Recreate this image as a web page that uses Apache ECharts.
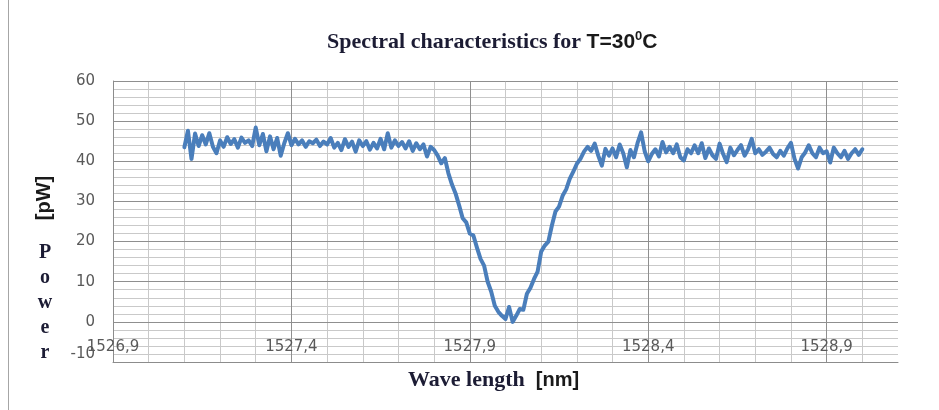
<!DOCTYPE html>
<html>
<head>
<meta charset="utf-8">
<script src="https://cdn.jsdelivr.net/npm/echarts@6/dist/echarts.min.js"></script>
<style>
html,body{margin:0;padding:0;background:#fff;}
#chart{width:939px;height:410px;}
</style>
</head>
<body>
<div id="chart"></div>
<script>
// Wavelength samples [nm]
const WAVELENGTH = [
1527.10,1527.11,1527.12,1527.13,1527.14,1527.15,1527.16,1527.17,1527.18,1527.19,
1527.20,1527.21,1527.22,1527.23,1527.24,1527.25,1527.26,1527.27,1527.28,1527.29,
1527.30,1527.31,1527.32,1527.33,1527.34,1527.35,1527.36,1527.37,1527.38,1527.39,
1527.40,1527.41,1527.42,1527.43,1527.44,1527.45,1527.46,1527.47,1527.48,1527.49,
1527.50,1527.51,1527.52,1527.53,1527.54,1527.55,1527.56,1527.57,1527.58,1527.59,
1527.60,1527.61,1527.62,1527.63,1527.64,1527.65,1527.66,1527.67,1527.68,1527.69,
1527.70,1527.71,1527.72,1527.73,1527.74,1527.75,1527.76,1527.77,1527.78,1527.79,
1527.80,1527.81,1527.82,1527.83,1527.84,1527.85,1527.86,1527.87,1527.88,1527.89,
1527.90,1527.91,1527.92,1527.93,1527.94,1527.95,1527.96,1527.97,1527.98,1527.99,
1528.00,1528.01,1528.02,1528.03,1528.04,1528.05,1528.06,1528.07,1528.08,1528.09,
1528.10,1528.11,1528.12,1528.13,1528.14,1528.15,1528.16,1528.17,1528.18,1528.19,
1528.20,1528.21,1528.22,1528.23,1528.24,1528.25,1528.26,1528.27,1528.28,1528.29,
1528.30,1528.31,1528.32,1528.33,1528.34,1528.35,1528.36,1528.37,1528.38,1528.39,
1528.40,1528.41,1528.42,1528.43,1528.44,1528.45,1528.46,1528.47,1528.48,1528.49,
1528.50,1528.51,1528.52,1528.53,1528.54,1528.55,1528.56,1528.57,1528.58,1528.59,
1528.60,1528.61,1528.62,1528.63,1528.64,1528.65,1528.66,1528.67,1528.68,1528.69,
1528.70,1528.71,1528.72,1528.73,1528.74,1528.75,1528.76,1528.77,1528.78,1528.79,
1528.80,1528.81,1528.82,1528.83,1528.84,1528.85,1528.86,1528.87,1528.88,1528.89,
1528.90,1528.91,1528.92,1528.93,1528.94,1528.95,1528.96,1528.97,1528.98,1528.99,
1529.00
];
// Power [pW]
const POWER = [
43.5,47.6,40.6,46.9,43.8,46.5,44.2,47.0,43.6,42.0,
45.2,43.6,46.0,44.3,45.5,43.4,45.9,44.6,45.2,43.8,
48.4,44.0,46.8,42.5,46.2,43.0,45.8,41.4,44.5,47.0,
44.0,45.6,44.2,45.2,43.6,45.0,44.5,45.4,43.8,44.9,
44.2,45.8,43.4,44.6,42.8,45.5,43.6,44.9,42.4,45.2,
43.8,45.0,42.9,44.6,43.2,45.6,43.0,47.0,43.4,45.2,
43.8,44.8,43.2,45.0,42.6,44.5,43.0,44.2,41.2,43.6,
42.8,41.4,39.5,40.8,37.0,34.2,32.0,29.0,25.8,24.8,
22.0,21.5,18.5,15.7,14.0,10.0,7.5,4.0,2.5,1.5,
0.7,3.7,0.0,1.5,3.2,3.0,7.0,8.5,10.7,12.5,
17.5,19.0,20.0,24.0,27.5,28.7,31.4,33.0,35.6,37.4,
39.4,40.6,42.4,43.6,42.6,44.4,41.4,38.9,43.1,41.4,
43.2,41.0,44.2,42.0,38.5,42.8,41.0,44.5,47.2,42.5,
40.0,41.8,43.0,41.2,44.8,42.2,43.6,42.0,44.2,41.0,
40.2,43.0,42.0,44.0,42.0,44.5,40.8,43.2,41.5,40.6,
44.4,41.8,39.8,43.4,41.5,42.8,44.0,41.4,43.0,45.6,
42.0,43.0,41.6,42.4,43.4,41.8,41.0,42.6,41.4,43.2,
44.6,40.6,38.2,41.0,42.2,44.0,42.0,41.0,43.4,42.0,
42.5,39.7,43.4,42.0,41.0,42.6,40.6,42.0,43.0,41.6,
43.0
];
// Axis ranges / ticks
const X_MIN = 1526.9, X_MAX = 1529.1;
const X_MAJOR_STEP = 0.5, X_MINOR_STEP = 0.1;
const Y_MIN = -10, Y_MAX = 60, Y_STEP = 10;

const LABEL_FONT = 'DejaVu Sans';
const SERIF = 'Liberation Serif';
const SANS = 'Liberation Sans';
const DARK = '#1c1c34';

const span = +(X_MAX - X_MIN).toFixed(6);
const seriesData = WAVELENGTH.map((w, i) => [w - X_MIN, POWER[i]]);

const chart = echarts.init(document.getElementById('chart'), null, {renderer: 'canvas'});
chart.setOption({
  animation: false,
  backgroundColor: '#ffffff',
  title: [
    {
      text: '{a|Spectral characteristics for }{b|T=30}{s|0}{b|C}',
      left: 327, top: 29.5, padding: 0,
      textStyle: {
        rich: {
          a: {fontFamily: SERIF, fontWeight: 'bold', fontSize: 22, color: DARK, lineHeight: 26},
          b: {fontFamily: SANS, fontWeight: 'bold', fontSize: 21, color: '#1a1a1a', lineHeight: 26},
          s: {fontFamily: SANS, fontWeight: 'bold', fontSize: 13, color: '#1a1a1a', verticalAlign: 'top', lineHeight: 14}
        }
      }
    },
    {
      text: '{a|Wave length }{b| [nm]}',
      left: 408, top: 367, padding: 0,
      textStyle: {
        rich: {
          a: {fontFamily: SERIF, fontWeight: 'bold', fontSize: 22, color: DARK, lineHeight: 26},
          b: {fontFamily: SANS, fontWeight: 'bold', fontSize: 20, color: '#1a1a1a', lineHeight: 26}
        }
      }
    }
  ],
  graphic: [
    {type: 'line', shape: {x1: 8.5, y1: 0, x2: 8.5, y2: 410}, style: {stroke: '#a6a6a6', lineWidth: 1}, silent: true},
    {type: 'text', x: 44, y: 198, rotation: Math.PI / 2,
     style: {text: '[pW]', fontFamily: SANS, fontWeight: 'bold', fontSize: 20, fill: '#1a1a1a', textAlign: 'center', textVerticalAlign: 'middle'}},
    {type: 'text', x: 45, y: 240.5,
     style: {text: 'P\no\nw\ne\nr', fontFamily: SERIF, fontWeight: 'bold', fontSize: 20, lineHeight: 25, fill: DARK, textAlign: 'center', textVerticalAlign: 'top'}}
  ],
  grid: {left: 113, right: 41, top: 81, bottom: 48, containLabel: false},
  xAxis: [
    {
      type: 'value', min: 0, max: span, interval: X_MINOR_STEP, z: 0,
      axisLine: {show: false, onZero: false}, axisTick: {show: false}, axisLabel: {show: false},
      splitLine: {show: true, showMaxLine: false, lineStyle: {color: '#c9c9c9', width: 1}}
    },
    {
      type: 'value', min: 0, max: span, interval: X_MAJOR_STEP, z: 1, position: 'bottom',
      axisLine: {show: true, onZero: false, lineStyle: {color: '#8c8c8c', width: 1}},
      axisTick: {show: false},
      axisLabel: {
        show: true, margin: -22, fontFamily: LABEL_FONT, fontSize: 15, color: '#595959',
        showMaxLabel: false,
        formatter: function (v) {
          if (v > span - 0.15) return '';
          return (X_MIN + v).toFixed(1).replace('.', ',');
        }
      },
      splitLine: {show: true, showMaxLine: false, lineStyle: {color: '#8f8f8f', width: 1}}
    }
  ],
  yAxis: {
    type: 'value', min: Y_MIN, max: Y_MAX, interval: Y_STEP, z: 1,
    axisLine: {show: true, lineStyle: {color: '#8c8c8c', width: 1}},
    axisTick: {show: false},
    axisLabel: {margin: 18, fontFamily: LABEL_FONT, fontSize: 15, color: '#595959', verticalAlignMinLabel: 'bottom'},
    splitLine: {show: true, lineStyle: {color: '#8f8f8f', width: 1}},
    minorTick: {show: false, splitNumber: 5},
    minorSplitLine: {show: true, lineStyle: {color: '#c9c9c9', width: 1}}
  },
  series: [{
    type: 'line', xAxisIndex: 1, data: seriesData,
    showSymbol: false, symbol: 'none', smooth: false,
    lineStyle: {color: '#4a7ebb', width: 4, join: 'round', cap: 'round'},
    z: 5
  }]
});
</script>
</body>
</html>
